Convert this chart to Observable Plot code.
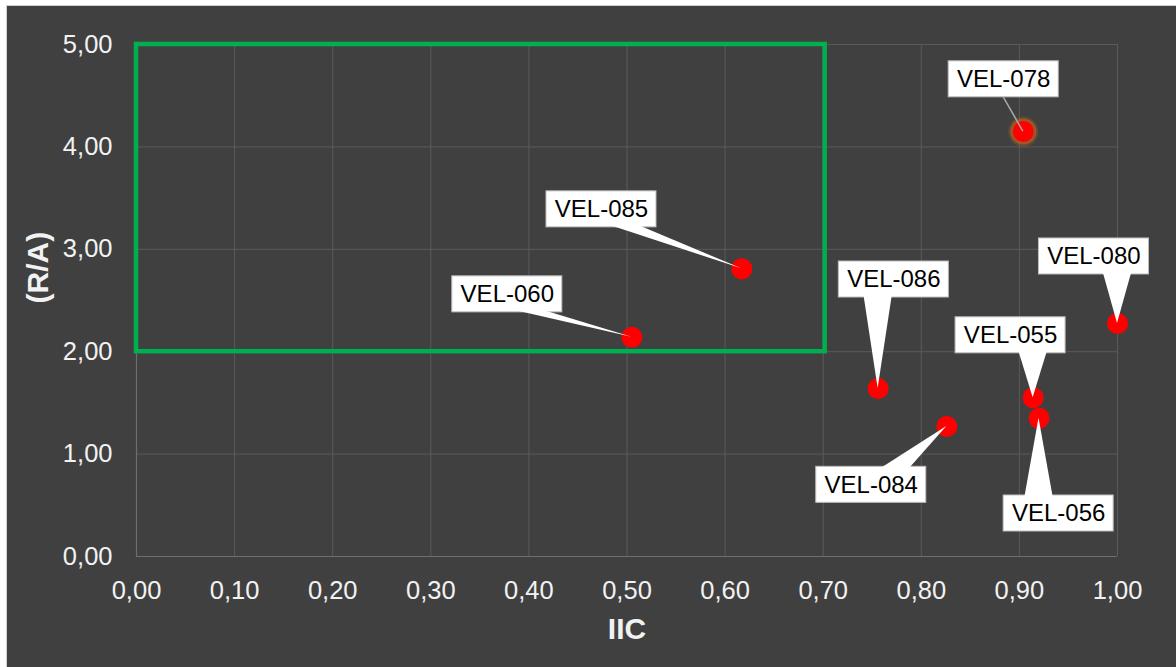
<!DOCTYPE html>
<html><head><meta charset="utf-8">
<script src="https://cdn.jsdelivr.net/npm/d3@7"></script>
<script src="https://cdn.jsdelivr.net/npm/@observablehq/plot@0.6"></script>
<style>
html,body{margin:0;padding:0;background:#ffffff;}
#wrap{position:absolute;left:6px;top:5px;width:1169px;height:661px;background:#404040;border-left:1px solid #d0d0d0;border-top:1px solid #d0d0d0;}
#wrap svg{display:block;}
</style></head><body><div id="wrap"></div>
<script>
// ---- data ----
const names  = ["VEL-060", "VEL-085", "VEL-078", "VEL-086", "VEL-080", "VEL-055", "VEL-056", "VEL-084"];
const iic    = [0.505, 0.617, 0.904, 0.756, 1.000, 0.914, 0.920, 0.826];
const ra     = [2.14, 2.81, 4.15, 1.64, 2.275, 1.55, 1.35, 1.27];
// label anchor positions (data units)
const labelX = [0.378, 0.474, 0.884, 0.772, 0.976, 0.891, 0.940, 0.749];
const labelY = [2.56, 3.39, 4.66, 2.705, 2.93, 2.16, 0.42, 0.70];
const glowing = ["VEL-078"];
const leaderOnly = ["VEL-078"];
const xTicks = [0, 0.1, 0.2, 0.3, 0.4, 0.5, 0.6, 0.7, 0.8, 0.9, 1.0];
const yTicks = [0, 1, 2, 3, 4, 5];
const zoneIIC = [0, 0.702];
const zoneRA = [2, 5];
const xTitle = "IIC";
const yTitle = "(R/A)";

const rows = names.map((n, i) => ({name: n, iic: iic[i], ra: ra[i], lx: labelX[i], ly: labelY[i]}));
const zone = [{x1: zoneIIC[0], x2: zoneIIC[1], y1: zoneRA[0], y2: zoneRA[1]}];
const fmt = d => d.toFixed(2).replace(".", ",");

const BOX_W = 110, BOX_H = 36, HALF_BASE = 14;

function callouts(index, scales) {
  const g = d3.create("svg:g");
  rows.forEach(r => {
    const px = scales.x(r.iic), py = scales.y(r.ra);
    const bx = scales.x(r.lx), by = scales.y(r.ly);
    g.append("rect")
      .attr("x", bx - BOX_W / 2).attr("y", by - BOX_H / 2)
      .attr("width", BOX_W).attr("height", BOX_H)
      .attr("fill", "#ffffff").attr("stroke", "#bfbfbf").attr("stroke-width", 1);
    if (leaderOnly.includes(r.name)) {
      g.append("line")
        .attr("x1", bx).attr("y1", by + BOX_H / 2)
        .attr("x2", px).attr("y2", py)
        .attr("stroke", "#a6a6a6").attr("stroke-width", 1.5);
    } else {
      const below = py > by;
      const edgeY = below ? by + BOX_H / 2 - 1 : by - BOX_H / 2 + 1;
      const cx = bx + Math.max(-25, Math.min(25, px - bx));
      g.append("polygon")
        .attr("points", `${cx - HALF_BASE},${edgeY} ${cx + HALF_BASE},${edgeY} ${px},${py}`)
        .attr("fill", "#ffffff");
    }
  });
  return g.node();
}

const chart = Plot.plot({
  width: 1169,
  height: 661,
  marginLeft: 129,
  marginRight: 59,
  marginTop: 38,
  marginBottom: 111,
  style: {background: "transparent", color: "#f2f2f2", fontFamily: "'Liberation Sans', Arial, sans-serif", fontSize: "25.5px"},
  x: {domain: [0, 1]},
  y: {domain: [0, 5]},
  marks: [
    Plot.ruleX(xTicks, {stroke: "#5a5a5a", strokeWidth: 1}),
    Plot.ruleY(yTicks, {stroke: "#5a5a5a", strokeWidth: 1}),
    Plot.ruleX([0], {stroke: "#6e6e6e", strokeWidth: 1.2}),
    Plot.ruleY([0], {stroke: "#6e6e6e", strokeWidth: 1.2}),
    Plot.axisX(xTicks, {tickSize: 0, tickPadding: 24, tickFormat: fmt, label: null, fontSize: 25.5, fill: "#f2f2f2"}),
    Plot.axisY(yTicks, {tickSize: 0, tickPadding: 24, tickFormat: fmt, label: null, fontSize: 25.5, fill: "#f2f2f2"}),
    Plot.rect(zone, {x1: "x1", x2: "x2", y1: "y1", y2: "y2", fill: "none", stroke: "#00b050", strokeWidth: 4.5}),
    Plot.dot(rows.filter(r => glowing.includes(r.name)), {x: "iic", y: "ra", r: 15, fill: "#d0621a", fillOpacity: 0.25}),
    Plot.dot(rows.filter(r => glowing.includes(r.name)), {x: "iic", y: "ra", r: 13, fill: "#e06a1a", fillOpacity: 0.45}),
    Plot.dot(rows, {x: "iic", y: "ra", r: 10.5, fill: "#ff0000"}),
    callouts,
    Plot.text(rows, {x: "lx", y: "ly", text: "name", fill: "#000000", fontSize: 24, textAnchor: "middle", lineAnchor: "middle"}),
    Plot.text([xTitle], {frameAnchor: "bottom", dy: 82, fontWeight: "bold", fontSize: 30, fill: "#f2f2f2"}),
    Plot.text([yTitle], {frameAnchor: "left", dx: -98, dy: 3, rotate: -90, fontWeight: "bold", fontSize: 30, fill: "#f2f2f2"})
  ]
});
document.getElementById("wrap").appendChild(chart);
</script>
</body></html>
